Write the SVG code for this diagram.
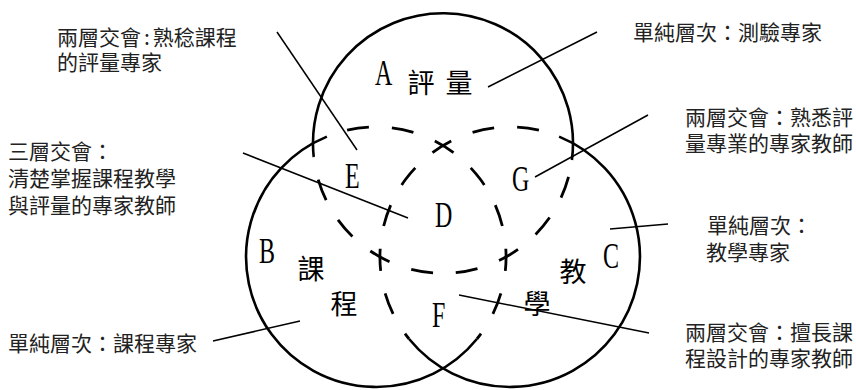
<svg xmlns="http://www.w3.org/2000/svg" width="856" height="390" viewBox="0 0 856 390">
<style>
.solid{fill:none;stroke:#000;stroke-width:2.6}
.dash{fill:none;stroke:#000;stroke-width:2.8;stroke-dasharray:22 23}
.lead{fill:none;stroke:#000;stroke-width:1.5}
.let{font-family:"Liberation Serif",serif;font-size:24px;fill:#000}
.big{font-family:"Noto Sans CJK TC",sans-serif;font-size:27px;fill:#000;text-anchor:middle}
.ann{font-family:"Noto Sans CJK TC",sans-serif;font-size:21px;fill:#222}
</style>
<rect width="856" height="390" fill="#fff"/>
<g id="circle-A">
<path class="solid" d="M313.7,156.8 A130,130 0 1 1 571.9,160.0"/>
<path class="dash" style="stroke-dashoffset:27.7" d="M571.9,160.0 A130,130 0 0 1 313.7,156.8"/>
<g transform="translate(375,85) scale(1,1.5)"><text class="let">A</text></g>
<text class="big" x="421" y="93">評</text>
<text class="big" x="459" y="93">量</text>
</g>
<g id="circle-B">
<path class="solid" d="M476.9,339.0 A130,130 0 1 1 326.9,136.6"/>
<path class="dash" style="stroke-dashoffset:23.8" d="M326.9,136.6 A130,130 0 0 1 476.9,339.0"/>
<g transform="translate(259,263) scale(1,1.5)"><text class="let">B</text></g>
<text class="big" x="311" y="279">課</text>
<text class="big" x="344" y="314">程</text>
</g>
<g id="circle-C">
<path class="solid" d="M559.1,136.6 A130,130 0 1 1 409.1,339.0"/>
<path class="dash" style="stroke-dashoffset:23.8" d="M559.1,136.6 A130,130 0 0 0 409.1,339.0"/>
<g transform="translate(603,268) scale(1,1.5)"><text class="let">C</text></g>
<text class="big" x="573" y="282">教</text>
<text class="big" x="537" y="314">學</text>
</g>
<g id="region-D"><g transform="translate(435,227) scale(1,1.5)"><text class="let">D</text></g></g>
<g id="region-E"><g transform="translate(345,188) scale(1,1.5)"><text class="let">E</text></g></g>
<g id="region-F"><g transform="translate(432,327) scale(1,1.5)"><text class="let">F</text></g></g>
<g id="region-G"><g transform="translate(512,191) scale(1,1.5)"><text class="let">G</text></g></g>
<g id="connectors">
<line class="lead" x1="277" y1="32" x2="357" y2="150"/>
<line class="lead" x1="597" y1="32" x2="488" y2="87"/>
<line class="lead" x1="648" y1="115" x2="535" y2="177"/>
<line class="lead" x1="243" y1="153" x2="408" y2="218"/>
<line class="lead" x1="610" y1="229" x2="668" y2="224"/>
<line class="lead" x1="459" y1="295" x2="649" y2="333"/>
<line class="lead" x1="300" y1="321" x2="213" y2="341"/>
</g>
<g id="note-E"><text class="ann" x="57" y="45">兩層交會<tspan dx="3">:</tspan><tspan dx="3">熟稔課程</tspan></text><text class="ann" x="57" y="70">的評量專家</text></g>
<g id="note-A"><text class="ann" x="633" y="40">單純層次：測驗專家</text></g>
<g id="note-D"><text class="ann" x="8" y="159">三層交會：</text><text class="ann" x="8" y="186">清楚掌握課程教學</text><text class="ann" x="8" y="213">與評量的專家教師</text></g>
<g id="note-G"><text class="ann" x="685" y="125">兩層交會：熟悉評</text><text class="ann" x="685" y="151">量專業的專家教師</text></g>
<g id="note-C"><text class="ann" x="707" y="233">單純層次：</text><text class="ann" x="706" y="260">教學專家</text></g>
<g id="note-B"><text class="ann" x="8" y="351">單純層次：課程專家</text></g>
<g id="note-F"><text class="ann" x="685" y="340">兩層交會：擅長課</text><text class="ann" x="685" y="366">程設計的專家教師</text></g>
</svg>
